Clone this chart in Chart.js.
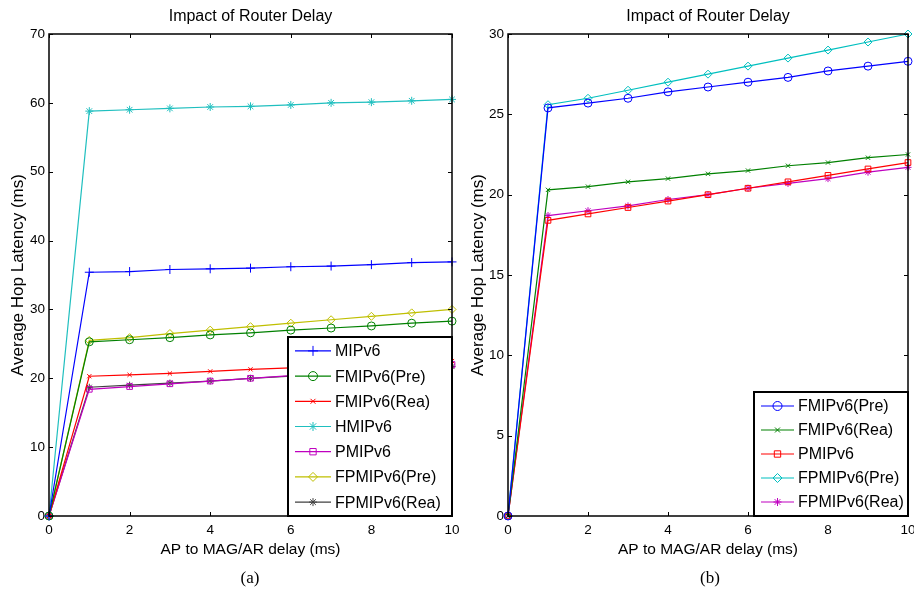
<!DOCTYPE html>
<html>
<head>
<meta charset="utf-8">
<script src="https://cdn.jsdelivr.net/npm/chart.js@4.4.0/dist/chart.umd.min.js"></script>
<style>
  body { margin: 0; background: #fff; width: 914px; height: 592px; position: relative; overflow: hidden; }
  canvas { position: absolute; top: 0; }
  #chartA { left: 0; }
  #chartB { left: 460px; }
  .cap { position: absolute; top: 568px; width: 100px; text-align: center; line-height: 22px;
         font: 17px "Liberation Serif", serif; color: #000; }
</style>
</head>
<body>
<canvas id="chartA" width="460" height="592"></canvas>
<canvas id="chartB" width="454" height="592"></canvas>
<div class="cap" style="left:200px">(a)</div>
<div class="cap" style="left:660px">(b)</div>
<script>
// x values: AP to MAG/AR delay (ms)
const delays = [0, 1, 2, 3, 4, 5, 6, 7, 8, 9, 10];
const xTicks = [0, 2, 4, 6, 8, 10];

// (a) all protocols
const mipv6      = [0, 35.4, 35.5, 35.8, 35.9, 36.0, 36.2, 36.3, 36.5, 36.8, 36.9];
const fmipPre    = [0, 25.3, 25.6, 25.9, 26.3, 26.6, 27.0, 27.3, 27.6, 28.0, 28.3];
const fmipRea    = [0, 20.3, 20.5, 20.7, 21.0, 21.3, 21.5, 21.8, 22.0, 22.3, 22.5];
const hmipv6     = [0, 58.8, 59.0, 59.2, 59.4, 59.5, 59.7, 60.0, 60.1, 60.3, 60.5];
const pmipv6     = [0, 18.4, 18.8, 19.2, 19.6, 20.0, 20.4, 20.8, 21.2, 21.6, 22.0];
const fpmipPre   = [0, 25.5, 25.9, 26.5, 27.0, 27.5, 28.0, 28.5, 29.0, 29.5, 30.0];
const fpmipRea   = [0, 18.7, 19.0, 19.3, 19.6, 20.0, 20.3, 20.7, 21.0, 21.4, 21.7];

// (b) fast / proxy variants only
const bFmipPre   = [0, 25.4, 25.7, 26.0, 26.4, 26.7, 27.0, 27.3, 27.7, 28.0, 28.3];
const bFmipRea   = [0, 20.3, 20.5, 20.8, 21.0, 21.3, 21.5, 21.8, 22.0, 22.3, 22.5];
const bPmipv6    = [0, 18.4, 18.8, 19.2, 19.6, 20.0, 20.4, 20.8, 21.2, 21.6, 22.0];
const bFpmipPre  = [0, 25.6, 26.0, 26.5, 27.0, 27.5, 28.0, 28.5, 29.0, 29.5, 30.0];
const bFpmipRea  = [0, 18.7, 19.0, 19.3, 19.7, 20.0, 20.4, 20.7, 21.0, 21.4, 21.7];

const yTicksA = [0, 10, 20, 30, 40, 50, 60, 70];
const yTicksB = [0, 5, 10, 15, 20, 25, 30];

const FONT = '"Liberation Sans", Arial, sans-serif';

function series(label, values, color, style, radius) {
  return {
    label: label,
    data: values.map((v, i) => ({ x: delays[i], y: v })),
    borderColor: color,
    backgroundColor: color,
    pointBorderColor: color,
    pointBackgroundColor: 'rgba(0,0,0,0)',
    pointStyle: style,
    pointRadius: radius || 3.5,
    pointBorderWidth: 1,
    borderWidth: 1.2,
    tension: 0,
    clip: false
  };
}

// matlab style box, inward ticks, title and legend inside the axes
const frame = {
  id: 'frame',
  afterDatasetsDraw(chart, args, opts) {
    const { ctx, chartArea: a, scales } = chart;
    ctx.save();
    ctx.strokeStyle = '#000';
    ctx.lineWidth = 1;
    ctx.beginPath();
    scales.x.ticks.forEach(t => {
      const px = Math.round(scales.x.getPixelForValue(t.value)) + 0.5;
      ctx.moveTo(px, a.bottom); ctx.lineTo(px, a.bottom - 4);
      ctx.moveTo(px, a.top); ctx.lineTo(px, a.top + 4);
    });
    scales.y.ticks.forEach(t => {
      const py = Math.round(scales.y.getPixelForValue(t.value)) + 0.5;
      ctx.moveTo(a.left, py); ctx.lineTo(a.left + 4, py);
      ctx.moveTo(a.right, py); ctx.lineTo(a.right - 4, py);
    });
    ctx.stroke();
    ctx.lineWidth = 1.5;
    ctx.strokeRect(a.left, a.top, a.right - a.left, a.bottom - a.top);

    // title centred over the axes
    ctx.fillStyle = '#000';
    ctx.font = '16px ' + FONT;
    ctx.textAlign = 'center';
    ctx.textBaseline = 'middle';
    ctx.fillText(opts.title, (a.left + a.right) / 2, 17);

    // legend
    const sets = chart.data.datasets;
    const w = opts.width, h = opts.height;
    const bx = a.right - w, by = a.bottom - h;
    ctx.fillStyle = '#fff';
    ctx.fillRect(bx, by, w, h);
    ctx.lineWidth = 2;
    ctx.strokeStyle = '#000';
    ctx.strokeRect(bx, by, w, h);
    const y0 = by + (h - (sets.length - 1) * opts.rowH) / 2;
    ctx.font = opts.fontSize + 'px ' + FONT;
    ctx.textAlign = 'left';
    sets.forEach((ds, i) => {
      const ry = y0 + i * opts.rowH;
      const lx = bx + 7;
      ctx.strokeStyle = ds.borderColor;
      ctx.lineWidth = 1.2;
      ctx.beginPath();
      ctx.moveTo(lx, ry); ctx.lineTo(lx + opts.lineLen, ry);
      ctx.stroke();
      ctx.fillStyle = 'rgba(0,0,0,0)';
      ctx.lineWidth = 1;
      Chart.helpers.drawPoint(ctx, { pointStyle: ds.pointStyle, radius: ds.pointRadius + 0.5, rotation: 0, borderWidth: 1 },
        lx + opts.lineLen / 2, ry);
      ctx.fillStyle = '#000';
      ctx.fillText(ds.label, lx + opts.lineLen + 4, ry + 1);
    });
    ctx.restore();
  }
};

function makeOptions(yMax, yTicks, yWidth, xHeight, padRight, legend) {
  return {
    responsive: false,
    animation: false,
    layout: { padding: { left: 0, right: padRight, top: 34, bottom: 0 } },
    plugins: {
      legend: { display: false },
      tooltip: { enabled: false },
      title: { display: false },
      frame: legend
    },
    scales: {
      x: {
        type: 'linear', min: 0, max: 10,
        afterBuildTicks: s => { s.ticks = xTicks.map(v => ({ value: v })); },
        afterFit: s => { s.height = xHeight; s.paddingLeft = 0; s.paddingRight = 0; },
        grid: { display: false, drawTicks: false },
        border: { display: false },
        ticks: { color: '#000', padding: 6, font: { family: FONT, size: 13.5 } },
        title: {
          display: true, text: 'AP to MAG/AR delay (ms)', color: '#000',
          font: { family: FONT, size: 15.5 }, padding: { top: 0, bottom: 33 }
        }
      },
      y: {
        type: 'linear', min: 0, max: yMax,
        afterBuildTicks: s => { s.ticks = yTicks.map(v => ({ value: v })); },
        afterFit: s => { s.width = yWidth; s.paddingTop = 0; s.paddingBottom = 0; },
        grid: { display: false, drawTicks: false },
        border: { display: false },
        ticks: { color: '#000', padding: 4, font: { family: FONT, size: 13.5 } },
        title: {
          display: true, text: 'Average Hop Latency (ms)', color: '#000',
          font: { family: FONT, size: 17 }, padding: { top: 8, bottom: 0 }
        }
      }
    }
  };
}

new Chart(document.getElementById('chartA'), {
  type: 'line',
  data: {
    datasets: [
      series('MIPv6', mipv6, '#0000ff', 'cross', 4.5),
      series('FMIPv6(Pre)', fmipPre, '#008000', 'circle', 4),
      series('FMIPv6(Rea)', fmipRea, '#ff0000', 'crossRot', 3),
      series('HMIPv6', hmipv6, '#1fbfbf', 'star', 4),
      series('PMIPv6', pmipv6, '#bf00bf', 'rect', 4),
      series('FPMIPv6(Pre)', fpmipPre, '#bfbf00', 'rectRot', 4),
      series('FPMIPv6(Rea)', fpmipRea, '#404040', 'star', 3.5)
    ]
  },
  options: makeOptions(70, yTicksA, 49, 76, 8,
    { title: 'Impact of Router Delay', width: 164, height: 179, rowH: 25.2, lineLen: 36, fontSize: 16 }),
  plugins: [frame]
});

new Chart(document.getElementById('chartB'), {
  type: 'line',
  data: {
    datasets: [
      series('FMIPv6(Pre)', bFmipPre, '#0000ff', 'circle', 4),
      series('FMIPv6(Rea)', bFmipRea, '#008000', 'crossRot', 3),
      series('PMIPv6', bPmipv6, '#ff0000', 'rect', 4),
      series('FPMIPv6(Pre)', bFpmipPre, '#00bfbf', 'rectRot', 4),
      series('FPMIPv6(Rea)', bFpmipRea, '#bf00bf', 'star', 3.5)
    ]
  },
  options: makeOptions(30, yTicksB, 48, 76, 6,
    { title: 'Impact of Router Delay', width: 154, height: 124, rowH: 24, lineLen: 33, fontSize: 16 }),
  plugins: [frame]
});
</script>
</body>
</html>
